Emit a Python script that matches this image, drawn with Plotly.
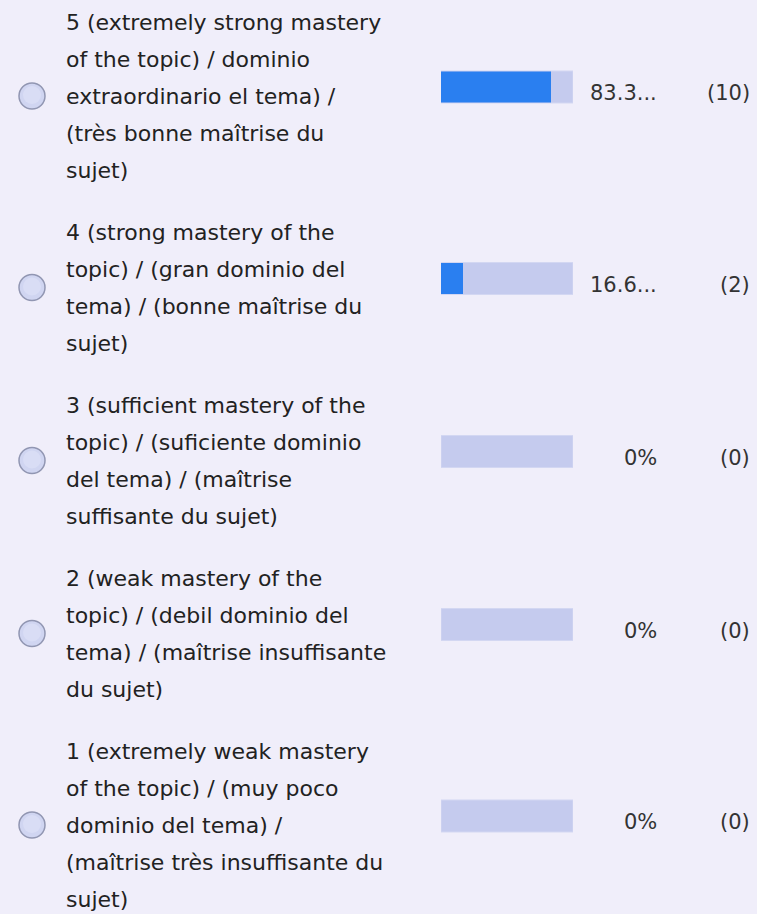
import plotly.graph_objects as go

# ---- data ----
label_lines = [
    ["5 (extremely strong mastery", "of the topic) / dominio", "extraordinario el tema) /", "(très bonne maîtrise du", "sujet)"],
    ["4 (strong mastery of the", "topic) / (gran dominio del", "tema) / (bonne maîtrise du", "sujet)"],
    ["3 (sufficient mastery of the", "topic) / (suficiente dominio", "del tema) / (maîtrise", "suffisante du sujet)"],
    ["2 (weak mastery of the", "topic) / (debil dominio del", "tema) / (maîtrise insuffisante", "du sujet)"],
    ["1 (extremely weak mastery", "of the topic) / (muy poco", "dominio del tema) /", "(maîtrise très insuffisante du", "sujet)"],
]
percents = [83.33, 16.67, 0, 0, 0]
percent_labels = ["83.3...", "16.6...", "0%", "0%", "0%"]
counts = [10, 2, 0, 0, 0]

# ---- layout constants ----
W, H = 757, 914
LINE = 37
GAP = 25
BG = "#f0eefa"
TRACK = "#c5cbee"
BLUE = "#2a7ff0"
FONT = "DejaVu Sans"

centers = []
c = 96
for i, lines in enumerate(label_lines):
    if i > 0:
        c += (len(label_lines[i - 1]) * LINE + len(lines) * LINE) / 2 + GAP
    centers.append(c)

bar_y = [c - 9 for c in centers]

fig = go.Figure()
fig.add_trace(go.Bar(
    x=[100] * len(percents), y=bar_y, orientation="h", width=32,
    marker=dict(color=TRACK, line=dict(color="#d3d7f2", width=1)),
    hoverinfo="skip", showlegend=False,
))
fig.add_trace(go.Bar(
    x=percents, y=bar_y, orientation="h", width=31,
    marker=dict(color=BLUE, line=dict(width=0)),
    hoverinfo="skip", showlegend=False,
))

annotations = []
shapes = []
for i, lines in enumerate(label_lines):
    n = len(lines)
    for j, line in enumerate(lines):
        annotations.append(dict(
            text=line, xref="paper", yref="y", x=64 / W,
            y=centers[i] + (j - (n - 1) / 2) * LINE,
            xanchor="left", yanchor="middle", showarrow=False,
            font=dict(family=FONT, size=22, color="#222222"),
        ))
    annotations.append(dict(
        text=percent_labels[i], xref="paper", yref="y", x=659 / W,
        y=centers[i] - 3, xanchor="right", yanchor="middle", showarrow=False,
        font=dict(family=FONT, size=21, color="#333333"),
    ))
    annotations.append(dict(
        text=f"({counts[i]})", xref="paper", yref="y", x=752 / W,
        y=centers[i] - 3, xanchor="right", yanchor="middle", showarrow=False,
        font=dict(family=FONT, size=21, color="#333333"),
    ))
    shapes.append(dict(
        type="circle", xref="paper", yref="y",
        x0=19 / W, x1=45 / W, y0=centers[i] - 13, y1=centers[i] + 13,
        fillcolor="#d0d5f1", line=dict(color="#9196b2", width=1.5),
    ))
    shapes.append(dict(
        type="circle", xref="paper", yref="y",
        x0=23 / W, x1=41 / W, y0=centers[i] - 10, y1=centers[i] + 8,
        fillcolor="#d9ddf5", line=dict(width=0),
    ))

fig.update_layout(
    width=W, height=H, margin=dict(l=0, r=0, t=0, b=0),
    paper_bgcolor=BG, plot_bgcolor=BG, barmode="overlay",
    xaxis=dict(domain=[441 / W, 573 / W], range=[0, 100], visible=False, fixedrange=True),
    yaxis=dict(range=[H, 0], visible=False, fixedrange=True),
    annotations=annotations, shapes=shapes,
)

fig.write_html(
    "out.html",
    config={"displayModeBar": False},
    post_script="document.body.style.margin='0';document.body.style.overflow='hidden';",
)
